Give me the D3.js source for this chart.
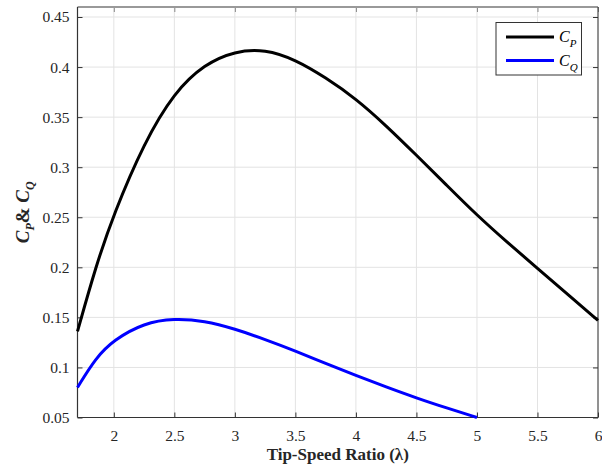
<!DOCTYPE html>
<html><head><meta charset="utf-8">
<script src="https://cdn.jsdelivr.net/npm/d3@7"></script>
<style>body{margin:0;background:#fff}svg{display:block}text{font-family:"Liberation Serif","Times New Roman",serif}</style>
</head><body><svg id="c" width="602" height="466"></svg>
<script>
const lambdaCp = [1.7,1.85,2.0,2.25,2.5,2.75,3.0,3.25,3.5,3.75,4.0,4.25,4.5,4.75,5.0,5.25,5.5,5.75,6.0];
const cpValues = [0.136,0.2005,0.2535,0.3245,0.375,0.403,0.416,0.4178,0.4075,0.3895,0.3685,0.3415,0.312,0.282,0.252,0.225,0.199,0.173,0.147];
const lambdaCq = [1.7,1.85,2.0,2.25,2.5,2.75,3.0,3.25,3.5,3.75,4.0,4.25,4.5,4.75,5.0];
const cqValues = [0.080,0.1095,0.1275,0.1445,0.149,0.1465,0.1385,0.128,0.1165,0.104,0.092,0.0805,0.0695,0.0595,0.050];
const xTicks = [2,2.5,3,3.5,4,4.5,5,5.5,6];
const yTicks = [0.05,0.1,0.15,0.2,0.25,0.3,0.35,0.4,0.45];
const seriesNames = ["P","Q"];
const seriesColors = ["#000000","#0000ff"];

const L=77.5,R=598,T=7,B=417.5;
const svg=d3.select("#c");
const x=d3.scaleLinear().domain([1.7,6]).range([L,R]);
const y=d3.scaleLinear().domain([0.05,0.46]).range([B,T]);

// grid
svg.append("g").selectAll("line").data(xTicks).join("line")
 .attr("x1",d=>x(d)).attr("x2",d=>x(d)).attr("y1",T).attr("y2",B)
 .attr("stroke","#e3e3e3").attr("stroke-width",1);
svg.append("g").selectAll("line").data(yTicks).join("line")
 .attr("x1",L).attr("x2",R).attr("y1",d=>y(d)).attr("y2",d=>y(d))
 .attr("stroke","#e3e3e3").attr("stroke-width",1);

// axes
const xa=svg.append("g").attr("transform",`translate(0,${B})`)
 .call(d3.axisBottom(x).tickValues(xTicks).tickSizeInner(-5).tickSizeOuter(0).tickPadding(12).tickFormat(d3.format("")));
const ya=svg.append("g").attr("transform",`translate(${L},0)`)
 .call(d3.axisLeft(y).tickValues(yTicks).tickSizeInner(-5).tickSizeOuter(0).tickPadding(8).tickFormat(d=>String(+d.toFixed(2))));
const xt=svg.append("g").attr("transform",`translate(0,${T})`)
 .call(d3.axisTop(x).tickValues(xTicks).tickSizeInner(-5).tickSizeOuter(0).tickFormat(""));
const yr=svg.append("g").attr("transform",`translate(${R},0)`)
 .call(d3.axisRight(y).tickValues(yTicks).tickSizeInner(-5).tickSizeOuter(0).tickFormat(""));
[xa,ya,xt,yr].forEach(g=>{
  g.select(".domain").remove();
  g.selectAll(".tick line").attr("stroke","#333");
  g.selectAll("text").attr("fill","#262626").style("font-size","15.5px").style("font-family","Liberation Serif");
});
xt.selectAll(".tick line").attr("stroke","#888");
svg.append("line").attr("x1",L).attr("x2",R).attr("y1",T).attr("y2",T).attr("stroke","#999").attr("stroke-width",2);
svg.append("line").attr("x1",R).attr("x2",R).attr("y1",T).attr("y2",B).attr("stroke","#333").attr("stroke-width",1);
svg.append("line").attr("x1",L).attr("x2",R).attr("y1",B).attr("y2",B).attr("stroke","#333").attr("stroke-width",1.2);
svg.append("line").attr("x1",L).attr("x2",L).attr("y1",T).attr("y2",B).attr("stroke","#333").attr("stroke-width",1.2);

// curves
const line=d3.line().curve(d3.curveBasis).x(d=>x(d[0])).y(d=>y(d[1]));
const seriesData=[d3.zip(lambdaCp,cpValues), d3.zip(lambdaCq,cqValues)];
seriesData.forEach((s,i)=>{
  svg.append("path").datum(s).attr("d",line).attr("fill","none")
   .attr("stroke",seriesColors[i]).attr("stroke-width",3).attr("stroke-linejoin","round");
});

// legend
const lg=svg.append("g");
lg.append("rect").attr("x",496).attr("y",22.5).attr("width",85.5).attr("height",52.5)
 .attr("fill","#fff").attr("stroke","#333").attr("stroke-width",1);
seriesNames.forEach((n,i)=>{
  const ly=37+i*23.5;
  lg.append("line").attr("x1",506).attr("x2",554).attr("y1",ly).attr("y2",ly)
   .attr("stroke",seriesColors[i]).attr("stroke-width",3);
  const t=lg.append("text").attr("x",559).attr("y",ly+5).attr("fill","#000")
   .style("font-size","16px").style("font-style","italic");
  t.append("tspan").text("C");
  t.append("tspan").attr("dy",5).style("font-size","11px").text(n);
});

// axis titles
svg.append("text").attr("x",(L+R)/2).attr("y",460).attr("text-anchor","middle")
 .style("font-size","17px").style("font-weight","bold").attr("fill","#262626")
 .text("Tip-Speed Ratio (λ)");
const yl=svg.append("text").attr("transform",`translate(29,${(T+B)/2}) rotate(-90)`)
 .attr("text-anchor","middle").style("font-size","19px").style("font-weight","bold").attr("fill","#262626");
yl.append("tspan").style("font-style","italic").text("C");
yl.append("tspan").attr("dy",5).style("font-size","12px").style("font-style","italic").text("P");
yl.append("tspan").attr("dy",-5).text("& ");
yl.append("tspan").style("font-style","italic").text("C");
yl.append("tspan").attr("dy",5).style("font-size","12px").style("font-style","italic").text("Q");
</script></body></html>
